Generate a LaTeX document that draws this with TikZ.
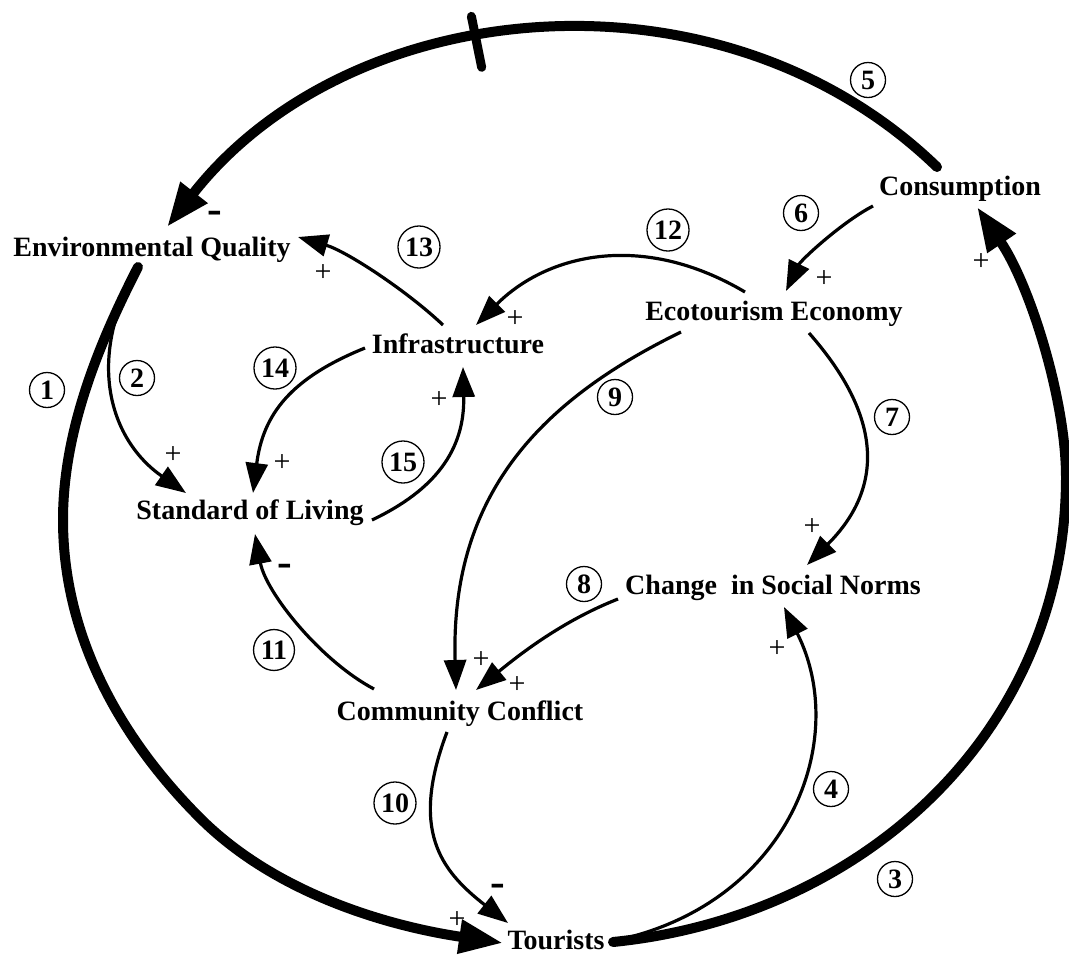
\documentclass[tikz,border=0pt]{standalone}
\usepackage{fontspec}
\setmainfont{Liberation Serif}
\usetikzlibrary{arrows.meta,calc,decorations.markings}

\tikzset{
  var/.style={font=\fontsize{28}{30}\selectfont\bfseries, text height=18.5pt, text depth=0pt, inner sep=0pt},
  num/.style={draw, circle, line width=1.3pt, inner sep=3pt, minimum size=35pt,
              font=\fontsize{28}{30}\selectfont\bfseries, text height=19pt, text depth=0pt},
  plussign/.style={font=\fontsize{30}{30}\selectfont, inner sep=0pt},
  minussign/.style={font=\fontsize{44}{44}\selectfont\bfseries, inner sep=0pt},
  link/.style={line width=3.2pt, -{Triangle[length=30pt,width=22pt]}},
  mainlink/.style={line width=10pt, line cap=round, -{Triangle[length=44pt,width=32pt]}},
  delaymark/.style={postaction={decorate},
    decoration={markings, mark=at position 0.574 with
      {\draw[-, line width=9pt, line cap=round] (0pt,-24pt) -- (0pt,28pt);}}},
}

\begin{document}
\begin{tikzpicture}[x=1pt, y=-1pt]
\useasboundingbox (0,0) rectangle (1069,954);

% variables
\node[var] (EQ)    at (152,247) {Environmental Quality};
\node[var] (Cons)  at (960,186) {Consumption};
\node[var] (Eco)   at (774,311) {Ecotourism Economy};
\node[var] (Infra) at (458,344) {Infrastructure};
\node[var] (SoL)   at (250,510) {Standard of Living};
\node[var] (CSN)   at (773,585) {Change~ in Social Norms};
\node[var] (CC)    at (460,711) {Community Conflict};
\node[var] (Tour)  at (556,940) {Tourists};

% bends of the outer loop
\coordinate (loopW)  at (63,520);
\coordinate (loopSW) at (200,818);
\coordinate (loopE)  at (1066,477);

% inner links
\draw[link] ($(EQ)+(-14,20)$) .. controls +(-53,93) and +(-76,-53) .. ($(SoL)+(-64,-17)$);
\draw[link] ($(Tour)+(57,1)$) .. controls +(176,-36) and +(67,133) .. ($(CSN)+(11,22)$);
\draw[link] ($(Cons)+(-87,20)$) .. controls +(-31,16) and +(15,-31) .. ($(Eco)+(12,-20)$);
\draw[link] ($(Eco)+(35,22)$) .. controls +(73,83) and +(78,-78) .. ($(CSN)+(34,-20)$);
\draw[link] ($(CSN)+(-155,14)$) .. controls +(-56,22) and +(43,-35) .. ($(CC)+(16,-21)$);
\draw[link] ($(Eco)+(-93,21)$) .. controls +(-135,66) and +(-6,-200) .. ($(CC)+(-4,-21)$);
\draw[link] ($(CC)+(-13,21)$) .. controls +(-37,98) and +(-68,-53) .. ($(Tour)+(-48,-17)$);
\draw[link] ($(CC)+(-86,-22)$) .. controls +(-53,-28) and +(11,59) .. ($(SoL)+(5,24)$);
\draw[link] ($(Eco)+(-29,-19)$) .. controls +(-103,-61) and +(71,-71) .. ($(Infra)+(18,-19)$);
\draw[link] ($(Infra)+(-15,-19)$) .. controls +(-37,-35) and +(48,14) .. ($(EQ)+(146,-10)$);
\draw[link] ($(Infra)+(-93,4)$) .. controls +(-74,30) and +(10,-79) .. ($(SoL)+(3,-17)$);
\draw[link] ($(SoL)+(122,10)$) .. controls +(63,-30) and +(2,83) .. ($(Infra)+(5,23)$);

% outer loop
\draw[mainlink] ($(EQ)+(-14,20)$) .. controls +(-40,78) and +(0,-88) .. (loopW)
  .. controls +(0,115) and +(-81,-81) .. (loopSW)
  .. controls +(78,78) and +(-109,-16) .. ($(Tour)+(-53,3)$);
\draw[mainlink] ($(Tour)+(57,2)$) .. controls +(249,-25) and +(0,256) .. (loopE)
  .. controls +(0,-77) and +(53,78) .. ($(Cons)+(17,21)$);
\draw[mainlink, delaymark] ($(Cons)+(-23,-19)$) .. controls +(-216,-209) and +(183,-234) .. ($(EQ)+(15,-20)$);

% link numbers
\node[num] (n1)  at (47,390)  {1};
\node[num] (n2)  at (137,378) {2};
\node[num] (n3)  at (895,879) {3};
\node[num] (n4)  at (831,789) {4};
\node[num] (n5)  at (868,80)  {5};
\node[num] (n6)  at (801,213) {6};
\node[num] (n7)  at (892,417) {7};
\node[num] (n8)  at (584,584) {8};
\node[num] (n9)  at (615,397) {9};
\node[num] (n10) at (395,803) {10};
\node[num] (n11) at (274,650) {11};
\node[num] (n12) at (668,230) {12};
\node[num] (n13) at (419,247) {13};
\node[num] (n14) at (275,368) {14};
\node[num] (n15) at (403,462) {15};

% polarities
\node[plussign]  (s1)  at (457,920) {+};
\node[plussign]  (s2)  at (173,455) {+};
\node[plussign]  (s3)  at (981,262) {+};
\node[plussign]  (s4)  at (777,649) {+};
\node[minussign] (s5)  at (215,217) {-};
\node[plussign]  (s6)  at (824,279) {+};
\node[plussign]  (s7)  at (812,527) {+};
\node[plussign]  (s8)  at (517,685) {+};
\node[plussign]  (s9)  at (481,660) {+};
\node[minussign] (s10) at (498,890) {-};
\node[minussign] (s11) at (285,570) {-};
\node[plussign]  (s12) at (515,319) {+};
\node[plussign]  (s13) at (323,273) {+};
\node[plussign]  (s14) at (282,463) {+};
\node[plussign]  (s15) at (439,400) {+};
\end{tikzpicture}
\end{document}
